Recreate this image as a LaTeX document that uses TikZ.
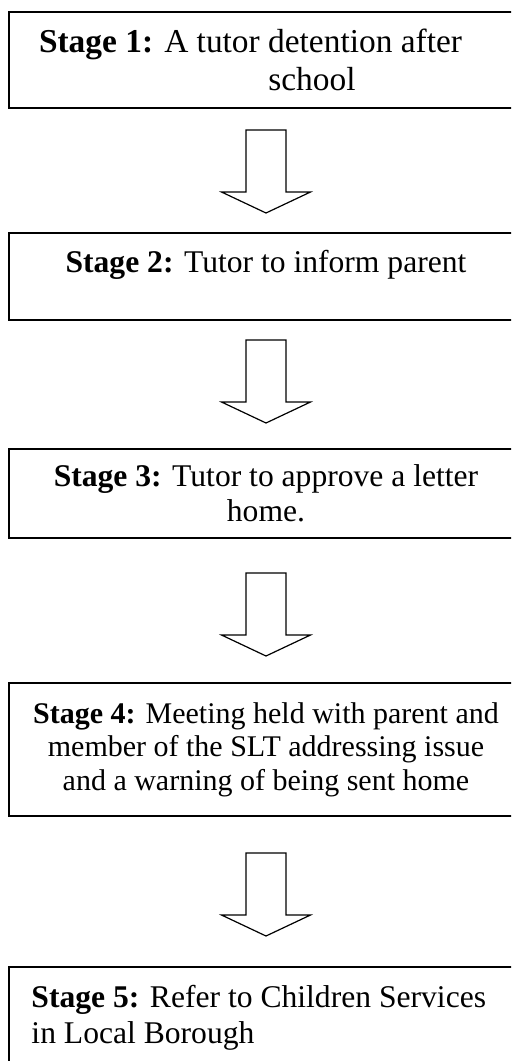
\documentclass[tikz,border=0pt]{standalone}
\usepackage{fontspec}
\setmainfont{Liberation Serif}
\usetikzlibrary{positioning, calc}
\tikzset{
  stagebox/.style={
    draw, line width=1pt, outer sep=0pt, inner sep=0pt,
    minimum width=257pt, align=center,
    font=\fontsize{15.8}{17.7}\selectfont
  },
  downarrow/.pic={
    \draw[line width=0.6pt, line join=miter]
      (-10,0) -- (10,0) -- (10,-31) -- (22.25,-31) -- (0,-41.5)
      -- (-22.25,-31) -- (-10,-31) -- cycle;
  },
}

\begin{document}
\begin{tikzpicture}[x=1pt, y=1pt]
  \useasboundingbox (0,0) rectangle (255.5,-530.5);
  \clip (0,0) rectangle (255.5,-530.5);

  \node[stagebox, minimum height=48pt,
        font=\fontsize{16.7}{18.7}\selectfont] (s1) at (133,-30) {%
    \textbf{Stage 1:} A tutor detention after\hspace*{15.5pt}\\
    \hspace*{46pt}school};
  \node[stagebox, minimum height=43.5pt, below=62.5pt of s1] (s2) {%
    \textbf{Stage 2:} Tutor to inform parent\\[-3pt]\mbox{}};
  \node[stagebox, minimum height=44.5pt, below=64.5pt of s2] (s3) {%
    \textbf{Stage 3:} Tutor to approve a letter\\
    home.};
  \node[stagebox, minimum height=66.5pt, below=72.5pt of s3,
        font=\fontsize{15}{16.75}\selectfont] (s4) {%
    \textbf{Stage 4:} Meeting held with parent and\\
    member of the SLT addressing issue\\
    and a warning of being sent home};
  \node[stagebox, below=75.5pt of s4.south west, anchor=north west,
        align=flush left, text width=250pt,
        inner xsep=11.25pt, inner ysep=9.2pt] (s5) {%
    \textbf{Stage 5:} Refer to Children Services\\
    in Local Borough};

  % hollow arrows between the stages
  \pic at ($(s1.south)+(0,-11)$) {downarrow};
  \pic at ($(s2.south)+(0,-10)$) {downarrow};
  \pic at ($(s3.south)+(0,-17.5)$) {downarrow};
  \pic at ($(s4.south)+(0,-18.5)$) {downarrow};
\end{tikzpicture}
\end{document}
